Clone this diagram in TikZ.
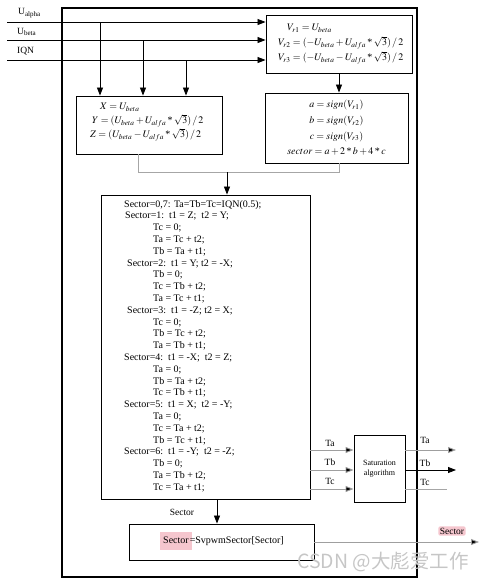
\documentclass[tikz,border=0pt]{standalone}
\usepackage{mathptmx}
\usepackage{fontspec}
\setmainfont{Liberation Serif}
\newfontfamily\cjkfont{Noto Sans CJK SC}
\usetikzlibrary{arrows.meta,calc}
\definecolor{hl}{HTML}{F5C6CE}
\newcommand{\mystar}{\mathbin{\mbox{*}}}
\tikzset{
  box/.style={draw, line width=0.9pt, inner sep=0pt},
  arr/.style={-{Triangle[length=8pt,width=6pt]}, line width=0.8pt},
  garr/.style={draw=gray!75, line width=0.9pt, -{Triangle[length=8pt,width=6pt,fill=black]}},
  gline/.style={draw=gray!70, line width=0.9pt},
  lbl/.style={font=\fontsize{9.5}{10}\selectfont, inner sep=0pt},
  formula/.style={font=\fontsize{10}{15}\selectfont, inner sep=0pt},
}
\begin{document}
\begin{tikzpicture}[x=1pt,y=-1pt]
\useasboundingbox (0,0) rectangle (484,582);
% outer frame
\node[draw, line width=1.4pt, minimum width=355pt, minimum height=569pt, inner sep=0pt] (outer) at (239.5,292.5) {};
% boxes
\node[box, minimum width=146pt, minimum height=58pt] (vbox) at (339,44) {};
\node[formula, align=left, anchor=west] (vtext) at (278,44) {\hspace*{9pt}$V_{r1}=U_{beta}$\\$V_{r2}=(-U_{beta}+U_{alfa}\mystar\sqrt{3})\,/\,2$\\$V_{r3}=(-U_{beta}-U_{alfa}\mystar\sqrt{3})\,/\,2$};
\node[box, minimum width=146pt, minimum height=58pt] (xyz) at (149,125) {};
\node[formula, align=left, anchor=west, font=\fontsize{10}{14}\selectfont] (xyztext) at (90,122) {\hspace*{10pt}$X=U_{beta}$\\\hspace*{2pt}$Y=(U_{beta}+U_{alfa}\mystar\sqrt{3})\,/\,2$\\$Z=(U_{beta}-U_{alfa}\mystar\sqrt{3})\,/\,2$};
\node[box, minimum width=143pt, minimum height=70pt] (abc) at (336.5,128) {};
\node[formula, align=center, font=\fontsize{10}{15.7}\selectfont] (abctext) at (336.5,128) {$a=sign(V_{r1})$\\$b=sign(V_{r2})$\\$c=sign(V_{r3})$\\$sector=a+2\mystar b+4\mystar c$};
\node[box, minimum width=209pt, minimum height=304pt] (sect) at (205.5,347) {};
\node[anchor=north west, align=left, inner sep=0pt, font=\fontsize{10}{11.8}\selectfont] (code) at (124,200) {%
Sector=0,7: Ta=Tb=Tc=IQN(0.5);\\
\hspace*{1pt}Sector=1:\ \ t1 = Z;\ \ t2 = Y;\\
\hspace*{29pt}Tc = 0;\\
\hspace*{29pt}Ta = Tc + t2;\\
\hspace*{29pt}Tb = Ta + t1;\\
\hspace*{3pt}Sector=2:\ \ t1 = Y; t2 = -X;\\
\hspace*{29pt}Tb = 0;\\
\hspace*{29pt}Tc = Tb + t2;\\
\hspace*{29pt}Ta = Tc + t1;\\
\hspace*{3pt}Sector=3:\ \ t1 = -Z; t2 = X;\\
\hspace*{29pt}Tc = 0;\\
\hspace*{29pt}Tb = Tc + t2;\\
\hspace*{29pt}Ta = Tb + t1;\\
Sector=4:\ \ t1 = -X;\ \ t2 = Z;\\
\hspace*{29pt}Ta = 0;\\
\hspace*{29pt}Tb = Ta + t2;\\
\hspace*{29pt}Tc = Tb + t1;\\
Sector=5:\ \ t1 = X;\ \ t2 = -Y;\\
\hspace*{29pt}Ta = 0;\\
\hspace*{29pt}Tc = Ta + t2;\\
\hspace*{29pt}Tb = Tc + t1;\\
Sector=6:\ \ t1 = -Y;\ \ t2 = -Z;\\
\hspace*{29pt}Tb = 0;\\
\hspace*{29pt}Ta = Tb + t2;\\
\hspace*{29pt}Tc = Ta + t1;};
\node[box, minimum width=51pt, minimum height=67pt, align=center, font=\fontsize{8}{10}\selectfont] (sat) at (379.5,468.5) {Saturation\\algorithm};
\node[box, minimum width=185pt, minimum height=36pt] (svp) at (221.5,542) {};
\node[inner sep=0pt, font=\fontsize{10}{12}\selectfont] (svptext) at (222,541) {\colorbox{hl}{\strut Sector}\hspace{-2pt}=SvpwmSector[Sector]};
% inputs
\coordinate (ua) at (7,22);
\coordinate (ub) at (7,40);
\coordinate (iq) at (7,60);
\node[lbl, anchor=west] (ualbl) at (18,13) {U\textsubscript{alpha}};
\node[lbl, anchor=west] (ublbl) at (17,32) {U\textsubscript{beta}};
\node[lbl, anchor=west] (iqlbl) at (17,51) {IQN};
\draw[arr] (ua) -- (ua -| vbox.west);
\draw[arr] (ub) -- (ub -| vbox.west);
\draw[arr] (iq) -- (iq -| vbox.west);
\coordinate (da) at (100,22);
\coordinate (db) at (143,40);
\coordinate (dc) at (186,60);
\draw[arr] (da) -- (da |- xyz.north);
\draw[arr] (db) -- (db |- xyz.north);
\draw[arr] (dc) -- (dc |- xyz.north);
\draw[arr] (vbox.south) -- (vbox.south |- abc.north);
% join
\coordinate (jl) at (138,172);
\coordinate (jr) at (339,172);
\coordinate (jm) at (227,172);
\draw[gline] (jl |- xyz.south) -- (jl) -- (jr) -- (jr |- abc.south);
\draw[arr] (jm) -- (jm |- sect.north);
% T lines
\coordinate (ta) at (310,450);
\coordinate (tb) at (310,470);
\coordinate (tc) at (310,489);
\draw[garr] (ta) -- (ta -| sat.west);
\draw[garr] (tb) -- (tb -| sat.west);
\draw[garr] (tc) -- (tc -| sat.west);
\node[lbl] (tal) at (330,443) {Ta};
\node[lbl] (tbl) at (330,462) {Tb};
\node[lbl] (tcl) at (330,481) {Tc};
\coordinate (oa) at (456,450);
\coordinate (ob) at (456,470);
\coordinate (oc) at (447,489);
\draw[garr] (ta -| sat.east) -- (oa);
\draw[arr] (tb -| sat.east) -- (ob);
\draw[gline] (tc -| sat.east) -- (oc);
\node[lbl] (oal) at (425,440) {Ta};
\node[lbl] (obl) at (425,463) {Tb};
\node[lbl] (ocl) at (425,482) {Tc};
% sector
\coordinate (sx) at (217,0);
\draw[arr] (sect.south -| sx) -- (sx |- svp.north);
\node[lbl] (seclbl) at (182,512) {Sector};
\coordinate (so) at (479,542);
\draw[garr] (svp.east) -- (so);
\node[lbl, fill=hl, rounded corners=2pt, inner sep=1.5pt] (soutlbl) at (452,531) {Sector};
% watermark
\node[inner sep=0pt, text=gray!45, font=\cjkfont\fontsize{19.5}{21}\selectfont] (wm) at (383,562) {CSDN @大彪爱工作};
\end{tikzpicture}
\end{document}
